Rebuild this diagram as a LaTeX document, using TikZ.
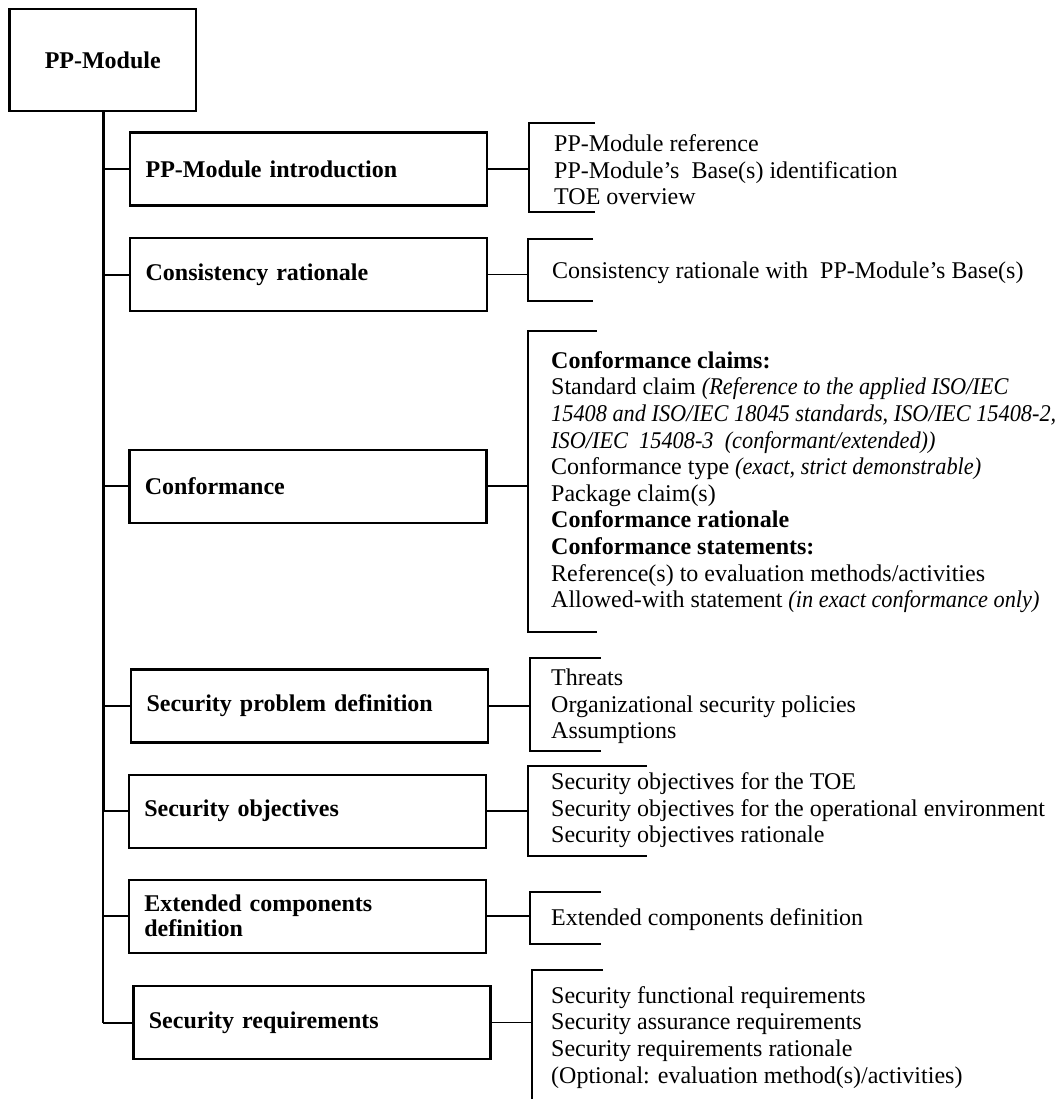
\documentclass[tikz,border=0pt]{standalone}
\usepackage{fontspec}
\setmainfont{Liberation Serif}[ItalicFeatures={FakeStretch=0.93}]
\newcommand\fsz{\fontsize{24}{26.6}\selectfont}
\begin{document}
\begin{tikzpicture}[x=1pt,y=-1pt,
  secbox/.style={draw, line width=2.2pt, anchor=north west, minimum height=73pt,
    text width=326pt, inner xsep=15.5pt, align=left, font=\bfseries\fsz},
  topbox/.style={draw, line width=2.2pt, minimum width=186.5pt, minimum height=102pt,
    font=\bfseries\fsz},
  grp/.style={anchor=west, inner sep=0pt, align=left, font=\fsz},
  trunk/.style={line width=3.3pt},
  trunkthin/.style={line width=2.2pt},
  branch/.style={line width=2pt},
  conn/.style={line width=1.7pt},
  brk/.style={line width=1.8pt}]
\useasboundingbox (0,0) rectangle (1063,1099);

% root
\node[topbox] (pp) at (102.75,60) {PP-Module};

% section boxes
\node[secbox] (b1) at (129,131.5) {PP-Module introduction};
\node[secbox] (b2) at (129,237) {Consistency rationale};
\node[secbox] (b3) at (128.3,448.7) {Conformance};
\node[secbox] (b4) at (130,668.3) {Security problem definition};
\node[secbox] (b5) at (127.7,773.5) {Security objectives};
\node[secbox] (b6) at (127.7,878.5) {Extended components\\[-1.6pt]definition};
\node[secbox] (b7) at (132.3,985) {Security requirements};

% trunk
\coordinate (t0) at (103.3,111);
\draw[trunk] (t0) -- (t0 |- b5.west);
\draw[trunkthin] (t0 |- b5.west) -- (t0 |- b7.west);
\foreach \b in {b1,b2,b3,b4,b5,b6,b7}{
  \draw[branch] (t0 |- \b.west) -- (\b.west);
}

% bracket coordinates
\coordinate (k1) at (529.3,0);  \coordinate (k1t) at (595,123.3); \coordinate (k1b) at (595,212);
\coordinate (k2) at (527.7,0);  \coordinate (k2t) at (593,238.7); \coordinate (k2b) at (593,301.3);
\coordinate (k3) at (528,0);    \coordinate (k3t) at (596.7,331); \coordinate (k3b) at (596.7,631.7);
\coordinate (k4) at (530,0);    \coordinate (k4t) at (600.7,657.7); \coordinate (k4b) at (600.7,751);
\coordinate (k5) at (528.3,0);  \coordinate (k5t) at (647,765.7); \coordinate (k5b) at (647,856);
\coordinate (k6) at (530,0);    \coordinate (k6t) at (600.7,891.7); \coordinate (k6b) at (600.7,944);
\coordinate (k7) at (531.7,0);  \coordinate (k7t) at (603,970);   \coordinate (k7b) at (531.7,1101);

\foreach \i in {1,...,6}{
  \draw[brk] (k\i t) -| (k\i |- k\i b) -- (k\i b);
  \draw[conn] (b\i.east) -- (b\i.east -| k\i);
}
\draw[brk] (k7t) -| (k7b);
\draw[conn] (b7.east) -- (b7.east -| k7);

% content groups
\node[grp] (g1) at (554,169.8) {PP-Module reference\\PP-Module’s~ Base(s) identification\\TOE overview};
\node[grp] (g2) at (552,272.3) {Consistency rationale with~ PP-Module’s Base(s)};
\node[grp] (g3) at (551,482.2) {\textbf{Conformance claims:}\\
Standard claim \textit{(Reference to the applied ISO/IEC}\\
\textit{15408 and ISO/IEC 18045 standards, ISO/IEC 15408-2,}\\
\textit{ISO/IEC~ 15408-3~ (conformant/extended))}\\
Conformance type \textit{(exact, strict demonstrable)}\\
Package claim(s)\\
\textbf{Conformance rationale}\\
\textbf{Conformance statements:}\\
Reference(s) to evaluation methods/activities\\
Allowed-with statement \textit{(in exact conformance only)}};
\node[grp] (g4) at (551,706.6) {Threats\\Organizational security policies\\Assumptions};
\node[grp] (g5) at (551,810.3) {Security objectives for the TOE\\Security objectives for the operational environment\\Security objectives rationale};
\node[grp] (g6) at (551,920) {Extended components definition};
\node[grp] (g7) at (551,1037.3) {Security functional requirements\\Security assurance requirements\\Security requirements rationale\\(Optional: evaluation method(s)/activities)};
\end{tikzpicture}
\end{document}
